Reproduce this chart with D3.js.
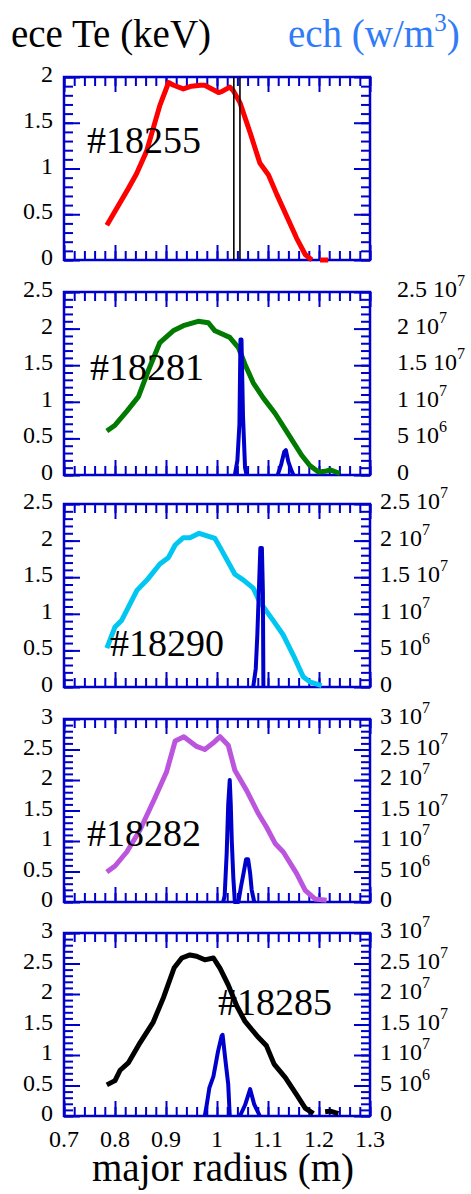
<!DOCTYPE html>
<html>
<head>
<meta charset="utf-8">
<script src="https://cdn.jsdelivr.net/npm/d3@7"></script>
<style>
  body { margin: 0; background: #fff; }
  svg { display: block; }
</style>
</head>
<body>
<svg width="471" height="1194"></svg>
<script>
// shots, one panel each
var shots = ["#18255", "#18281", "#18290", "#18282", "#18285"];
var teColors = ["#ff0000", "#007a00", "#00c6f2", "#bb55dd", "#000000"];
var teMax = [2, 2.5, 2.5, 3, 3];              // keV, left axis top
var echMax = [null, 2.5e7, 2.5e7, 3e7, 3e7];  // W/m3, right axis top
var teTicks = [[0, 0.5, 1, 1.5, 2], [0, 0.5, 1, 1.5, 2, 2.5], [0, 0.5, 1, 1.5, 2, 2.5],
               [0, 0.5, 1, 1.5, 2, 2.5, 3], [0, 0.5, 1, 1.5, 2, 2.5, 3]];
var echTicks25 = [[0, "0", ""], [5e6, "5 10", "6"], [1e7, "1 10", "7"], [1.5e7, "1.5 10", "7"],
                  [2e7, "2 10", "7"], [2.5e7, "2.5 10", "7"]];
var echTicks30 = echTicks25.concat([[3e7, "3 10", "7"]]);
var rTicks = [0.7, 0.8, 0.9, 1, 1.1, 1.2, 1.3];

// ece Te profiles [major radius m, keV], null = gap
var te18255 = [[0.784,0.38],[0.826,0.78],[0.842,0.94],[0.862,1.19],[0.888,1.69],[0.905,1.94],[0.915,1.91],
  [0.934,1.87],[0.950,1.90],[0.967,1.91],[0.976,1.91],[1.003,1.83],[1.009,1.84],[1.025,1.89],[1.032,1.85],
  [1.045,1.72],[1.065,1.39],[1.084,1.06],[1.101,0.93],[1.117,0.72],[1.156,0.24],[1.173,0.06],[1.186,0.0],
  [1.194,null],[1.202,0.0],[1.218,0.0]];
var te18281 = [[0.784,0.60],[0.800,0.68],[0.823,0.87],[0.846,1.07],[0.865,1.42],[0.888,1.81],[0.914,1.97],
  [0.934,2.04],[0.963,2.10],[0.983,2.08],[0.996,1.97],[1.025,1.88],[1.042,1.74],[1.055,1.51],[1.071,1.26],
  [1.091,1.05],[1.114,0.84],[1.137,0.59],[1.166,0.27],[1.182,0.13],[1.199,0.04],[1.212,0.05],[1.222,0.07],
  [1.241,0.02]];
var te18290 = [[0.784,0.53],[0.800,0.82],[0.813,0.91],[0.843,1.32],[0.865,1.48],[0.888,1.68],[0.905,1.77],
  [0.918,1.94],[0.934,2.04],[0.947,2.04],[0.965,2.10],[0.996,2.03],[1.009,1.87],[1.035,1.54],[1.052,1.46],
  [1.071,1.35],[1.084,1.16],[1.110,0.91],[1.130,0.71],[1.150,0.43],[1.169,0.14],[1.182,0.07],[1.205,0.02]];
var te18282 = [[0.784,0.49],[0.800,0.59],[0.823,0.82],[0.849,1.18],[0.878,1.70],[0.901,2.13],[0.918,2.64],
  [0.935,2.71],[0.960,2.55],[0.976,2.50],[0.993,2.61],[1.006,2.71],[1.022,2.57],[1.035,2.16],[1.058,1.83],
  [1.081,1.45],[1.097,1.23],[1.114,0.96],[1.130,0.82],[1.156,0.47],[1.173,0.19],[1.192,0.05],[1.215,0.03]];
var te18285 = [[0.784,0.51],[0.800,0.58],[0.810,0.75],[0.826,0.87],[0.849,1.20],[0.875,1.54],[0.895,1.94],
  [0.916,2.43],[0.931,2.59],[0.947,2.64],[0.960,2.62],[0.976,2.56],[0.993,2.59],[1.006,2.42],[1.022,2.15],
  [1.039,1.80],[1.055,1.55],[1.081,1.29],[1.097,1.15],[1.112,0.85],[1.134,0.63],[1.156,0.35],[1.173,0.13],
  [1.189,0.04],[1.200,null],[1.212,0.07],[1.222,0.08],[1.238,0.04]];

// ech power density [major radius m, W/m3], null = gap
var ech18281 = [[1.035,0],[1.040,2e6],[1.044,7e6],[1.046,1.85e7],[1.048,1.85e7],[1.051,8e6],[1.055,1e6],
  [1.058,0],[1.09,null],[1.119,0],[1.126,1.5e6],[1.132,3.2e6],[1.135,3.4e6],[1.140,1.8e6],[1.146,6e5],[1.150,0]];
var ech18290 = [[1.071,0],[1.073,1e6],[1.076,2.5e6],[1.079,7e6],[1.082,1.3e7],[1.085,1.9e7],[1.088,1.9e7],
  [1.090,1.3e7],[1.091,0]];
var ech18282 = [[1.012,0],[1.015,1e6],[1.019,8e6],[1.022,1.6e7],[1.025,2e7],[1.027,1.6e7],[1.029,1e7],
  [1.032,4e6],[1.035,0],[1.042,0],[1.047,2.5e6],[1.052,4.7e6],[1.057,7e6],[1.061,7e6],[1.065,4.7e6],
  [1.068,2e6],[1.073,0]];
var ech18285 = [[0.976,0],[0.980,1.9e6],[0.985,4.6e6],[0.993,6.5e6],[1.002,1.06e7],[1.009,1.31e7],
  [1.011,1.33e7],[1.016,9.5e6],[1.022,5.2e6],[1.025,0],[1.035,null],[1.045,0],[1.055,1.8e6],[1.065,4.4e6],
  [1.073,1.9e6],[1.084,0]];
var resonance18255 = [1.033, 1.045];

var teData = [te18255, te18281, te18290, te18282, te18285];
var echData = [null, ech18281, ech18290, ech18282, ech18285];

// layout
var left = 64, right = 370, panelH = 183;
var panelTop = [77, 292, 504, 719, 933];
var labelPos = [[87, 153], [90, 380], [110, 656], [87, 846], [218, 1015]];
var rightLabelX = [null, 397, 380, 380, 380];
var frameColor = "#0000cc";
var serif = "'Liberation Serif', 'Times New Roman', serif";

var svg = d3.select("svg");
var x = d3.scaleLinear().domain([0.7, 1.3]).range([left, right]);

function txt(sel) { return sel.append("text").style("font-family", serif); }

txt(svg).attr("x", 11).attr("y", 47).attr("font-size", 39).text("ece Te (keV)");
var ech = txt(svg).attr("x", 288).attr("y", 47).attr("font-size", 39).attr("fill", "#2f7cf6");
ech.append("tspan").text("ech (w/m");
ech.append("tspan").attr("font-size", 25).attr("dy", -16).text("3");
ech.append("tspan").attr("dy", 16).text(")");

shots.forEach(function(shot, i) {
  var top = panelTop[i], bottom = top + panelH;
  var y = d3.scaleLinear().domain([0, teMax[i]]).range([bottom, top]);
  var g = svg.append("g");

  var minorR = d3.ticks(0.7, 1.3, 30), minorY = d3.ticks(0, teMax[i], teMax[i] * 10);
  var majorY = teTicks[i];

  function tickAxis(axisFn, scale, vals, size, transform) {
    var a = g.append("g").attr("transform", transform)
      .call(axisFn(scale).tickValues(vals).tickSize(-size).tickFormat(""));
    a.select(".domain").remove();
    a.selectAll("line").attr("stroke", frameColor).attr("stroke-width", 2);
  }
  tickAxis(d3.axisBottom, x, minorR, 9, "translate(0," + bottom + ")");
  tickAxis(d3.axisBottom, x, rTicks, 15, "translate(0," + bottom + ")");
  tickAxis(d3.axisTop, x, minorR, 9, "translate(0," + top + ")");
  tickAxis(d3.axisTop, x, rTicks, 15, "translate(0," + top + ")");
  tickAxis(d3.axisLeft, y, minorY, 9, "translate(" + left + ",0)");
  tickAxis(d3.axisLeft, y, majorY, 16, "translate(" + left + ",0)");
  tickAxis(d3.axisRight, y, minorY, 9, "translate(" + right + ",0)");
  tickAxis(d3.axisRight, y, majorY, 16, "translate(" + right + ",0)");

  g.append("rect").attr("x", left).attr("y", top).attr("width", right - left).attr("height", panelH)
    .attr("fill", "none").attr("stroke", frameColor).attr("stroke-width", 2.5);

  g.selectAll(".ylab").data(majorY).enter().append("text").style("font-family", serif)
    .attr("x", 53).attr("y", function(d) { return y(d) + 5; })
    .attr("text-anchor", "end").attr("font-size", 24).text(function(d) { return d; });

  var line = d3.line().defined(function(d) { return d[1] !== null; })
    .x(function(d) { return x(d[0]); }).y(function(d) { return y(d[1]); });

  g.append("path").datum(teData[i]).attr("d", line).attr("fill", "none")
    .attr("stroke", teColors[i]).attr("stroke-width", 5).attr("stroke-linejoin", "round");

  if (i === 0) {
    g.selectAll(".res").data(resonance18255).enter().append("line")
      .attr("x1", function(d) { return x(d); }).attr("x2", function(d) { return x(d); })
      .attr("y1", top).attr("y2", bottom).attr("stroke", "#000").attr("stroke-width", 1.6);
  }

  if (echData[i]) {
    var y2 = d3.scaleLinear().domain([0, echMax[i]]).range([bottom, top]);
    var line2 = d3.line().defined(function(d) { return d[1] !== null; })
      .x(function(d) { return x(d[0]); }).y(function(d) { return y2(d[1]); });
    g.append("path").datum(echData[i]).attr("d", line2).attr("fill", "none")
      .attr("stroke", "#0000cc").attr("stroke-width", 4).attr("stroke-linejoin", "round");

    var rl = g.selectAll(".rlab").data(echMax[i] > 2.6e7 ? echTicks30 : echTicks25).enter().append("text")
      .style("font-family", serif)
      .attr("x", rightLabelX[i]).attr("y", function(d) { return y2(d[0]) + 5; }).attr("font-size", 24);
    rl.append("tspan").text(function(d) { return d[1]; });
    rl.append("tspan").attr("font-size", 16).attr("dy", -11).text(function(d) { return d[2]; });
  }

  txt(g).attr("x", labelPos[i][0]).attr("y", labelPos[i][1]).attr("font-size", 38).text(shot);

  if (i === shots.length - 1) {
    g.selectAll(".xlab").data(rTicks).enter().append("text").style("font-family", serif)
      .attr("x", function(d) { return x(d); }).attr("y", 1147)
      .attr("text-anchor", "middle").attr("font-size", 24).text(function(d) { return d; });
  }
});

txt(svg).attr("x", 92).attr("y", 1181).attr("font-size", 39).text("major radius (m)");
</script>
</body>
</html>
